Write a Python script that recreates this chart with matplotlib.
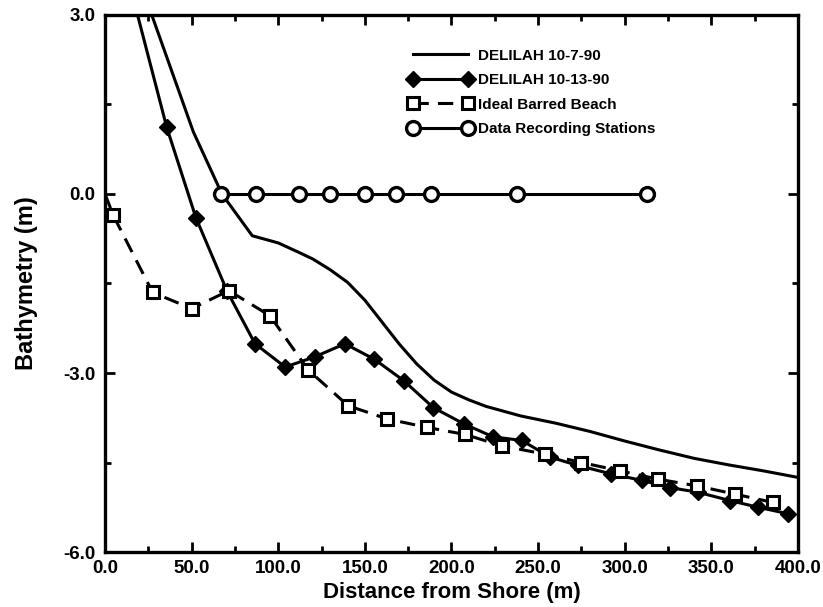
import matplotlib
matplotlib.use("Agg")
import matplotlib.pyplot as plt
from matplotlib.ticker import MultipleLocator, FormatStrFormatter

plt.rcParams['font.family'] = ['Liberation Sans', 'DejaVu Sans']
plt.rcParams['font.weight'] = 'bold'

# DELILAH 10-7-90 profile (solid line, no markers)
x_oct7 = [27, 51, 67.5, 85, 100, 112, 120, 130, 140, 150, 160, 170, 180, 190,
          200, 210, 220, 240, 260, 280, 300, 320, 340, 360, 380, 400]
y_oct7 = [3.0, 1.04, 0.0, -0.70, -0.82, -0.98, -1.09, -1.27, -1.48, -1.78, -2.15,
          -2.52, -2.85, -3.12, -3.32, -3.45, -3.56, -3.72, -3.84, -3.98, -4.14,
          -4.29, -4.43, -4.54, -4.64, -4.75]

# DELILAH 10-13-90 profile (diamonds)
x_oct13 = [17, 35.6, 52.5, 70.5, 86.6, 104, 121, 138.5, 155.5, 172.5, 189.5, 207,
           224, 240.5, 257, 273, 292, 310, 326, 342.5, 361, 377, 394.5]
y_oct13 = [3.2, 1.12, -0.40, -1.63, -2.51, -2.90, -2.73, -2.51, -2.77, -3.13, -3.58,
           -3.85, -4.07, -4.13, -4.41, -4.55, -4.69, -4.80, -4.92, -5.00, -5.14,
           -5.25, -5.36]

# Ideal barred beach (squares, dashed)
x_ideal = [0, 4.8, 27.5, 50, 71.5, 95.2, 117.3, 140.4, 163, 185.6, 207.8, 229,
           254, 275, 297.3, 319.3, 341.5, 363.6, 385.7]
y_ideal = [0.0, -0.36, -1.65, -1.92, -1.62, -2.04, -2.95, -3.55, -3.77, -3.91,
           -4.03, -4.22, -4.36, -4.50, -4.64, -4.78, -4.89, -5.03, -5.17]

# Data recording stations
x_stations = [67, 87, 112, 130, 150, 168, 188, 238, 313]
y_stations = [0.0] * len(x_stations)

fig = plt.figure(figsize=(8.23, 6.07), dpi=100)
ax = fig.add_axes([0.1276, 0.0906, 0.842, 0.8847])

ax.plot(x_oct7, y_oct7, color='black', lw=2.2, label='DELILAH 10-7-90')
ax.plot(x_oct13, y_oct13, color='black', lw=2.2, marker='D', ms=8,
        label='DELILAH 10-13-90')
ax.plot(x_ideal, y_ideal, color='black', lw=2.2, ls=(0, (5, 3)), marker='s',
        ms=9, mfc='white', mec='black', mew=2.2, markevery=list(range(1, len(x_ideal))),
        label='Ideal Barred Beach')
ax.plot(x_stations, y_stations, color='black', lw=2.2, marker='o', ms=10,
        mfc='white', mec='black', mew=2.4, label='Data Recording Stations')

ax.set_xlim(0, 400)
ax.set_ylim(-6, 3)
ax.xaxis.set_major_locator(MultipleLocator(50))
ax.xaxis.set_minor_locator(MultipleLocator(25))
ax.yaxis.set_major_locator(MultipleLocator(3))
ax.yaxis.set_minor_locator(MultipleLocator(1.5))
ax.xaxis.set_major_formatter(FormatStrFormatter('%.1f'))
ax.yaxis.set_major_formatter(FormatStrFormatter('%.1f'))
ax.tick_params(which='both', direction='in', top=True, right=True, width=2)
ax.tick_params(which='major', length=7, labelsize=13.5)
ax.tick_params(which='minor', length=4)
ax.tick_params(axis='x', which='major', pad=6)
ax.tick_params(axis='y', which='major', pad=7)
for s in ax.spines.values():
    s.set_linewidth(2.4)

ax.set_xlabel('Distance from Shore (m)', fontsize=16, fontweight='bold', labelpad=3)
ax.set_ylabel('Bathymetry (m)', fontsize=17, fontweight='bold', labelpad=18)

ax.legend(loc='upper left', bbox_to_anchor=(0.438, 0.937), frameon=False,
          numpoints=2, handlelength=4.2, handletextpad=0.35, labelspacing=0.68,
          borderpad=0, borderaxespad=0, prop={'size': 11, 'weight': 'bold'})

fig.savefig('out.png', dpi=100)
